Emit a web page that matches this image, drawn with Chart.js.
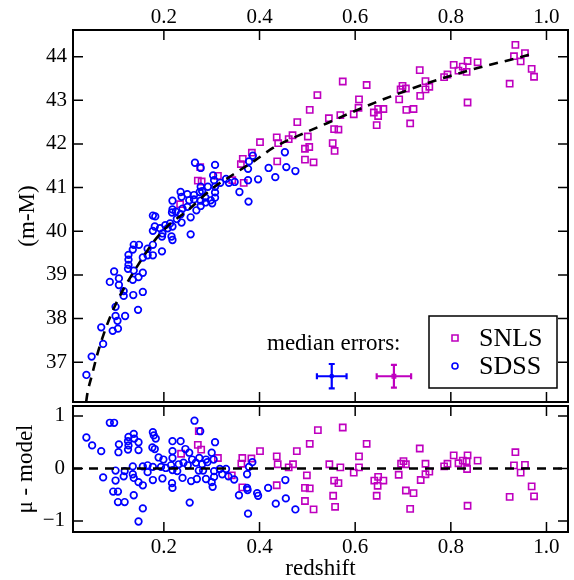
<!DOCTYPE html>
<html>
<head>
<meta charset="utf-8">
<script src="https://cdn.jsdelivr.net/npm/chart.js@4.4.0/dist/chart.umd.min.js"></script>
<style>
  html, body { margin: 0; padding: 0; background: #fff; overflow: hidden; }
  #wrap { position: relative; width: 574px; height: 580px; }
  canvas { position: absolute; left: 0; }
  #hubble { top: 0; }
  #resid { top: 400px; }
</style>
</head>
<body>
<div id="wrap">
  <canvas id="hubble" width="574" height="408"></canvas>
  <canvas id="resid" width="574" height="180"></canvas>
</div>
<script>
// redshift axis
const zMin = 0.01, zMax = 1.045;
const zTicks = [0.2, 0.4, 0.6, 0.8, 1.0];
const muTicks = [37, 38, 39, 40, 41, 42, 43, 44];
const resTicks = [-1, 0, 1];

// SDSS, top panel (z, m-M)
const sdssZ = [0.096, 0.125, 0.137, 0.156, 0.087, 0.106, 0.106, 0.135, 0.147, 0.116,
  0.116, 0.136, 0.156, 0.099, 0.099, 0.119, 0.103, 0.146, 0.069, 0.093,
  0.104, 0.073, 0.049, 0.038, 0.265, 0.277, 0.307, 0.419, 0.386, 0.378,
  0.376, 0.303, 0.305, 0.318, 0.330, 0.336, 0.348, 0.376, 0.397, 0.358,
  0.377, 0.277, 0.292, 0.280, 0.307, 0.235, 0.249, 0.237, 0.263, 0.275,
  0.253, 0.263, 0.277, 0.287, 0.298, 0.307, 0.307, 0.301, 0.218, 0.239,
  0.225, 0.218, 0.249, 0.268, 0.277, 0.287, 0.256, 0.177, 0.182, 0.217,
  0.235, 0.227, 0.237, 0.213, 0.203, 0.192, 0.181, 0.177, 0.208, 0.218,
  0.197, 0.196, 0.216, 0.218, 0.256, 0.137, 0.148, 0.135, 0.166, 0.177,
  0.196, 0.126, 0.126, 0.126, 0.156, 0.177, 0.166, 0.453, 0.456, 0.475, 0.433];
const sdssMu = [39.08, 39.14, 39.10, 39.05, 38.84, 38.92, 38.77, 38.89, 38.95, 38.63,
  38.52, 38.54, 38.61, 38.27, 38.06, 38.06, 37.95, 38.20, 37.80, 37.72,
  37.77, 37.42, 37.13, 36.71, 41.57, 41.45, 41.52, 41.45, 41.73, 41.60,
  41.43, 41.28, 41.17, 41.11, 41.20, 41.11, 41.13, 41.17, 41.19, 40.90,
  40.68, 41.02, 41.02, 40.92, 41.02, 40.90, 40.85, 40.79, 40.83, 40.90,
  40.71, 40.73, 40.70, 40.77, 40.71, 40.77, 40.89, 40.64, 40.70, 40.52,
  40.45, 40.50, 40.56, 40.48, 40.58, 40.66, 40.32, 40.36, 40.34, 40.43,
  40.39, 40.28, 40.20, 40.18, 40.14, 40.07, 40.11, 40.01, 40.07, 40.11,
  39.95, 39.88, 39.88, 39.80, 39.93, 39.69, 39.69, 39.58, 39.60, 39.69,
  39.54, 39.46, 39.35, 39.23, 39.40, 39.45, 39.45, 41.81, 41.47, 41.38, 41.24];

// SNLS, top panel
const snlsZ = [0.276, 0.271, 0.279, 0.313, 0.343, 0.365, 0.361, 0.384, 0.367, 0.234,
  0.401, 0.436, 0.439, 0.461, 0.469, 0.437, 0.479, 0.505, 0.521, 0.501,
  0.504, 0.495, 0.495, 0.513, 0.545, 0.569, 0.556, 0.565, 0.553, 0.557,
  0.574, 0.624, 0.608, 0.607, 0.597, 0.639, 0.648, 0.659, 0.648, 0.645,
  0.699, 0.695, 0.706, 0.692, 0.707, 0.722, 0.715, 0.735, 0.747, 0.755,
  0.747, 0.736, 0.786, 0.793, 0.806, 0.816, 0.825, 0.833, 0.835, 0.856,
  0.835, 0.923, 0.935, 0.932, 0.955, 0.946, 0.969, 0.974];
const snlsMu = [41.47, 41.16, 41.14, 41.27, 41.17, 41.66, 41.54, 41.80, 41.11, 40.62,
  42.04, 42.15, 42.02, 42.11, 42.20, 41.60, 42.50, 42.78, 43.12, 42.17,
  41.93, 41.89, 41.64, 41.58, 42.59, 42.66, 42.34, 42.33, 42.02, 41.84,
  43.43, 43.35, 43.02, 42.83, 42.68, 42.72, 42.80, 42.80, 42.64, 42.43,
  43.33, 43.25, 43.27, 43.02, 42.78, 42.80, 42.47, 43.69, 43.44, 43.31,
  43.25, 43.10, 43.53, 43.59, 43.81, 43.68, 43.77, 43.65, 43.90, 43.87,
  42.95, 43.38, 44.27, 44.01, 44.08, 43.89, 43.72, 43.54];

// model curve
const modelZ = [0.0375, 0.040, 0.050, 0.060, 0.074, 0.090, 0.106, 0.128, 0.152, 0.180,
  0.210, 0.250, 0.300, 0.345, 0.390, 0.430, 0.500, 0.540, 0.620, 0.675,
  0.745, 0.790, 0.870, 0.925, 0.966];
const modelMu = [36.09, 36.28, 36.72, 37.15, 37.64, 38.10, 38.48, 38.91, 39.33, 39.78,
  40.14, 40.48, 40.97, 41.30, 41.62, 41.92, 42.28, 42.47, 42.85, 43.09,
  43.37, 43.53, 43.78, 43.93, 44.05];

// residuals (mu - model)
const sdssResZ = [0.087, 0.096, 0.038, 0.050, 0.069, 0.106, 0.105, 0.126, 0.125, 0.126,
  0.125, 0.137, 0.138, 0.147, 0.147, 0.177, 0.179, 0.183, 0.176, 0.181,
  0.218, 0.235, 0.218, 0.189, 0.199, 0.218, 0.135, 0.156, 0.166, 0.177,
  0.194, 0.204, 0.215, 0.218, 0.231, 0.228, 0.099, 0.118, 0.166, 0.073,
  0.099, 0.116, 0.135, 0.137, 0.147, 0.156, 0.177, 0.197, 0.217, 0.218,
  0.239, 0.094, 0.104, 0.137, 0.104, 0.118, 0.156, 0.147, 0.254, 0.264,
  0.276, 0.307, 0.245, 0.253, 0.259, 0.274, 0.288, 0.300, 0.304, 0.267,
  0.280, 0.291, 0.241, 0.250, 0.273, 0.282, 0.305, 0.317, 0.330, 0.322,
  0.335, 0.347, 0.257, 0.269, 0.288, 0.300, 0.305, 0.302, 0.378, 0.374,
  0.374, 0.375, 0.357, 0.395, 0.397, 0.418, 0.376, 0.434, 0.454, 0.455,
  0.475, 0.385];
const sdssRes = [0.87, 0.87, 0.59, 0.44, 0.33, 0.46, 0.31, 0.60, 0.52, 0.44,
  0.36, 0.66, 0.57, 0.50, 0.35, 0.69, 0.63, 0.57, 0.40, 0.37,
  0.52, 0.52, 0.33, 0.21, 0.17, 0.20, 0.04, 0.04, 0.06, 0.03,
  0.03, 0.01, 0.06, -0.03, 0.08, -0.05, -0.04, -0.05, -0.07, -0.17,
  -0.23, -0.15, -0.11, -0.18, -0.26, -0.32, -0.22, -0.19, -0.28, -0.37,
  -0.18, -0.44, -0.44, -0.51, -0.64, -0.64, -0.76, -1.01, -0.65, 0.91,
  0.71, 0.50, 0.37, 0.30, 0.17, 0.20, 0.17, 0.30, 0.17, 0.11,
  0.08, 0.12, 0.11, 0.06, -0.04, -0.04, -0.05, -0.01, -0.01, -0.11,
  -0.15, -0.21, -0.24, -0.20, -0.20, -0.26, -0.16, -0.35, 0.03, -0.11,
  -0.37, -0.41, -0.51, -0.47, -0.52, -0.37, -0.86, -0.67, -0.22, -0.57,
  -0.78, 0.12];

const snlsResZ = [0.236, 0.271, 0.278, 0.273, 0.313, 0.342, 0.362, 0.364, 0.383, 0.401,
  0.364, 0.436, 0.438, 0.461, 0.470, 0.478, 0.436, 0.495, 0.505, 0.495,
  0.499, 0.522, 0.574, 0.505, 0.513, 0.546, 0.556, 0.565, 0.554, 0.558,
  0.569, 0.597, 0.608, 0.608, 0.624, 0.640, 0.648, 0.659, 0.647, 0.645,
  0.691, 0.696, 0.701, 0.706, 0.706, 0.722, 0.715, 0.735, 0.737, 0.747,
  0.747, 0.755, 0.786, 0.793, 0.806, 0.816, 0.825, 0.833, 0.835, 0.834,
  0.856, 0.835, 0.935, 0.932, 0.955, 0.946, 0.969, 0.974, 0.923];
const snlsRes = [0.28, 0.45, 0.36, 0.71, 0.20, -0.13, 0.09, 0.20, 0.19, 0.33,
  -0.36, 0.23, 0.08, 0.02, 0.08, 0.33, -0.32, -0.37, -0.38, -0.62,
  -0.13, 0.73, 0.78, 0.47, -0.78, 0.08, -0.23, -0.28, -0.52, -0.73,
  0.02, -0.08, 0.02, 0.23, 0.47, -0.23, -0.16, -0.23, -0.33, -0.52,
  -0.12, 0.09, 0.14, 0.08, -0.42, -0.47, -0.77, 0.38, -0.22, 0.09,
  -0.11, -0.06, 0.04, 0.09, 0.25, 0.10, 0.15, 0.14, 0.25, -0.01,
  0.15, -0.71, 0.31, 0.06, 0.07, -0.08, -0.34, -0.53, -0.54];

// median errors inset (SDSS, SNLS)
const medLabels = ['SDSS', 'SNLS'];
const medZ = [0.551, 0.681];
const medMu = [36.68, 36.68];
const medErrZ = [0.031, 0.036];
const medErrMu = [0.28, 0.26];

const BLUE = '#0000ff';
const MAGENTA = '#bf00bf';
const FONT = "'Liberation Serif', 'Times New Roman', serif";

Chart.defaults.font.family = FONT;
Chart.defaults.color = '#000';
Chart.defaults.animation = false;

function pts(xs, ys) {
  return xs.map((x, i) => ({ x: x, y: ys[i] }));
}

function fixedTicks(values) {
  return function (scale) { scale.ticks = values.map(v => ({ value: v })); };
}

// keep the plot box where it is: no extra room for edge labels
function fitTo(prop, size) {
  return function (s) {
    s[prop] = size;
    s.paddingTop = 0; s.paddingBottom = 0;
    s.paddingLeft = 0; s.paddingRight = 0;
  };
}

// box round each panel with inward ticks on all four sides
const framePlugin = {
  id: 'frame',
  afterDraw(chart, args, opts) {
    const { ctx, chartArea: a, scales } = chart;
    const len = 10;
    ctx.save();
    ctx.strokeStyle = '#000';
    ctx.lineWidth = 1.5;
    ctx.beginPath();
    opts.xTicks.forEach(v => {
      const px = scales.x.getPixelForValue(v);
      ctx.moveTo(px, a.top); ctx.lineTo(px, a.top + len);
      ctx.moveTo(px, a.bottom); ctx.lineTo(px, a.bottom - len);
    });
    opts.yTicks.forEach(v => {
      const py = scales.y.getPixelForValue(v);
      ctx.moveTo(a.left, py); ctx.lineTo(a.left + len, py);
      ctx.moveTo(a.right, py); ctx.lineTo(a.right - len, py);
    });
    ctx.stroke();
    ctx.lineWidth = 2;
    ctx.strokeRect(a.left, a.top, a.right - a.left, a.bottom - a.top);
    ctx.restore();
  }
};

// "median errors:" crosses
const errorPlugin = {
  id: 'medErr',
  afterDatasetsDraw(chart) {
    const { ctx, scales, chartArea: a } = chart;
    const colors = [BLUE, MAGENTA];
    const cap = 3;
    ctx.save();
    ctx.lineWidth = 2.2;
    medZ.forEach((z, i) => {
      const cx = scales.x.getPixelForValue(z);
      const cy = scales.y.getPixelForValue(medMu[i]);
      const x0 = scales.x.getPixelForValue(z - medErrZ[i]);
      const x1 = scales.x.getPixelForValue(z + medErrZ[i]);
      const y0 = scales.y.getPixelForValue(medMu[i] - medErrMu[i]);
      const y1 = scales.y.getPixelForValue(medMu[i] + medErrMu[i]);
      ctx.strokeStyle = colors[i];
      ctx.beginPath();
      ctx.moveTo(x0, cy); ctx.lineTo(x1, cy);
      ctx.moveTo(cx, y0); ctx.lineTo(cx, y1);
      ctx.moveTo(x0, cy - cap); ctx.lineTo(x0, cy + cap);
      ctx.moveTo(x1, cy - cap); ctx.lineTo(x1, cy + cap);
      ctx.moveTo(cx - cap, y0); ctx.lineTo(cx + cap, y0);
      ctx.moveTo(cx - cap, y1); ctx.lineTo(cx + cap, y1);
      ctx.stroke();
    });
    ctx.fillStyle = '#000';
    ctx.font = '23px ' + FONT;
    ctx.textAlign = 'left';
    ctx.textBaseline = 'alphabetic';
    ctx.fillText('median errors:', a.left + 194, a.bottom - 52);
    ctx.restore();
  }
};

// legend box in the lower right corner of the top panel
const legendPlugin = {
  id: 'boxLegend',
  afterDraw(chart) {
    const { ctx, chartArea: a } = chart;
    const w = 128, h = 72;
    const x = a.right - 11 - w, y = a.bottom - 14 - h;
    ctx.save();
    ctx.fillStyle = '#fff';
    ctx.fillRect(x, y, w, h);
    ctx.strokeStyle = '#000';
    ctx.lineWidth = 1.5;
    ctx.strokeRect(x, y, w, h);
    const rows = [
      { label: 'SNLS', color: MAGENTA, shape: 'rect' },
      { label: 'SDSS', color: BLUE, shape: 'circle' }
    ];
    rows.forEach((r, i) => {
      const cy = y + 22 + i * 28;
      const mx = x + 26;
      ctx.strokeStyle = r.color;
      ctx.lineWidth = 1.6;
      ctx.beginPath();
      if (r.shape === 'rect') ctx.rect(mx - 3, cy - 3, 6, 6);
      else ctx.arc(mx, cy, 3, 0, Math.PI * 2);
      ctx.stroke();
      ctx.fillStyle = '#000';
      ctx.font = '26px ' + FONT;
      ctx.textBaseline = 'middle';
      ctx.fillText(r.label, x + 50, cy + 1);
    });
    ctx.restore();
  }
};

const tickFont = { size: 21, family: FONT };
const titleFont = { size: 23, family: FONT, lineHeight: 1.0 };
const noGrid = { display: false, drawTicks: false };

const sdssStyle = {
  pointStyle: 'circle', pointRadius: 3.3, pointBorderWidth: 1.7,
  pointBorderColor: BLUE, pointBackgroundColor: 'rgba(0,0,0,0)', borderColor: BLUE
};
const snlsStyle = {
  pointStyle: 'rect', pointRadius: 4.4, pointBorderWidth: 1.6,
  pointBorderColor: MAGENTA, pointBackgroundColor: 'rgba(0,0,0,0)', borderColor: MAGENTA
};
const dashStyle = {
  showLine: true, pointRadius: 0, borderColor: '#000', borderWidth: 2.6,
  borderDash: [9, 7], fill: false
};

new Chart(document.getElementById('hubble'), {
  type: 'scatter',
  data: {
    datasets: [
      Object.assign({ label: 'model', data: pts(modelZ, modelMu), order: 0,
        cubicInterpolationMode: 'monotone' }, dashStyle),
      Object.assign({ label: 'SDSS', data: pts(sdssZ, sdssMu), order: 1 }, sdssStyle),
      Object.assign({ label: 'SNLS', data: pts(snlsZ, snlsMu), order: 2 }, snlsStyle),
      Object.assign({ label: 'SDSS median', data: [{ x: medZ[0], y: medMu[0] }], order: 1 },
        sdssStyle, { pointRadius: 1.8, pointBorderWidth: 1.2 }),
      Object.assign({ label: 'SNLS median', data: [{ x: medZ[1], y: medMu[1] }], order: 1 },
        snlsStyle, { pointRadius: 2.6, pointBorderWidth: 1.2 })
    ]
  },
  options: {
    responsive: false,
    layout: { padding: { left: 0, right: 2, top: 0, bottom: 3 } },
    plugins: {
      legend: { display: false },
      tooltip: { enabled: false },
      frame: { xTicks: zTicks, yTicks: muTicks }
    },
    scales: {
      x: {
        type: 'linear', position: 'top', min: zMin, max: zMax,
        grid: noGrid, border: { display: false },
        afterBuildTicks: fixedTicks(zTicks),
        afterFit: fitTo('height', 30),
        ticks: { font: tickFont, padding: 12.5, crossAlign: 'center', maxRotation: 0, autoSkip: false,
          callback: v => v.toFixed(1) }
      },
      y: {
        type: 'linear', min: 36.09, max: 44.61,
        grid: noGrid, border: { display: false },
        afterBuildTicks: fixedTicks(muTicks),
        afterFit: fitTo('width', 73),
        ticks: { font: tickFont, padding: 6, autoSkip: false },
        title: { display: true, text: '(m-M)', font: titleFont, padding: { top: 16 } }
      }
    }
  },
  plugins: [framePlugin, errorPlugin, legendPlugin]
});

new Chart(document.getElementById('resid'), {
  type: 'scatter',
  data: {
    datasets: [
      Object.assign({ label: 'zero', data: [{ x: zMin, y: 0 }, { x: zMax, y: 0 }], order: 0 }, dashStyle),
      Object.assign({ label: 'SDSS', data: pts(sdssResZ, sdssRes), order: 1 }, sdssStyle),
      Object.assign({ label: 'SNLS', data: pts(snlsResZ, snlsRes), order: 2 }, snlsStyle)
    ]
  },
  options: {
    responsive: false,
    layout: { padding: { left: 0, right: 2, top: 5, bottom: 0 } },
    plugins: {
      legend: { display: false },
      tooltip: { enabled: false },
      frame: { xTicks: zTicks, yTicks: resTicks }
    },
    scales: {
      x: {
        type: 'linear', position: 'bottom', min: zMin, max: zMax,
        grid: noGrid, border: { display: false },
        afterBuildTicks: fixedTicks(zTicks),
        afterFit: fitTo('height', 48),
        ticks: { font: tickFont, padding: 3, maxRotation: 0, autoSkip: false,
          callback: v => v.toFixed(1) },
        title: { display: true, text: 'redshift', font: titleFont, padding: { top: 0, bottom: 0 } }
      },
      y: {
        type: 'linear', min: -1.21, max: 1.19,
        grid: noGrid, border: { display: false },
        afterBuildTicks: fixedTicks(resTicks),
        afterFit: fitTo('width', 73),
        ticks: { font: tickFont, padding: 8, autoSkip: false,
          callback: v => (v < 0 ? '\u2212' + Math.abs(v) : String(v)) },
        title: { display: true, text: '\u03bc - model', font: titleFont, padding: { top: 14 } }
      }
    }
  },
  plugins: [framePlugin]
});
</script>
</body>
</html>
